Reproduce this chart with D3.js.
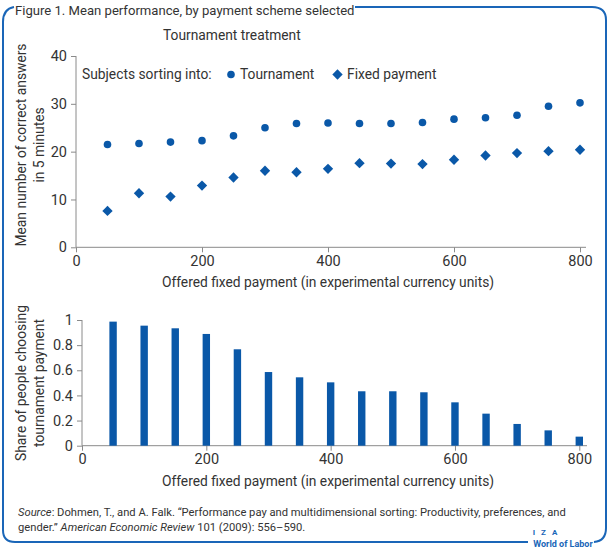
<!DOCTYPE html>
<html><head><meta charset="utf-8">
<script src="https://cdn.jsdelivr.net/npm/d3@7"></script>
<style>
body{margin:0;background:#fff;}
text{font-family:Roboto,"Liberation Sans",sans-serif;fill:#333;}
</style></head>
<body><svg id="c" width="608" height="553"></svg>
<script>
const payments = [50,100,150,200,250,300,350,400,450,500,550,600,650,700,750,800];
const tournamentPerf = [21.5,21.7,22.0,22.3,23.3,25.0,25.9,26.0,25.9,25.9,26.1,26.8,27.1,27.6,29.5,30.2];
const fixedPerf = [7.6,11.3,10.6,12.9,14.6,16.0,15.7,16.4,17.6,17.5,17.4,18.3,19.2,19.7,20.1,20.4];
const shareTournament = [0.987,0.955,0.934,0.889,0.767,0.586,0.544,0.504,0.433,0.433,0.425,0.345,0.255,0.173,0.122,0.072];
const xTicks = [0,200,400,600,800];
const yTicksTop = [0,10,20,30,40];
const yTicksBottom = [0,0.2,0.4,0.6,0.8,1];

const blue = "#0a58a8", frame = "#1a66b8", axisCol = "#8a8a8a";
const fs = 13.8, tfs = 14.5;
const svg = d3.select("#c");

// frame
const fp = d3.path();
fp.moveTo(14,7); fp.quadraticCurveTo(3,9,3,22);
fp.lineTo(3,530); fp.quadraticCurveTo(3,542,15,542);
fp.lineTo(528,542);
svg.append("path").attr("d",fp.toString()).attr("fill","none").attr("stroke",frame).attr("stroke-width",2);
const fp2 = d3.path();
fp2.moveTo(594,542); fp2.quadraticCurveTo(606,541,606,528);
fp2.lineTo(606,20); fp2.quadraticCurveTo(606,7,592,7); fp2.lineTo(355,7);
svg.append("path").attr("d",fp2.toString()).attr("fill","none").attr("stroke",frame).attr("stroke-width",2);

svg.append("text").attr("x",15).attr("y",15).attr("font-size",13.1).text("Figure 1. Mean performance, by payment scheme selected");

// ---- top chart
const xT = d3.scaleLinear().domain([0,800]).range([76,580]);
const yT = d3.scaleLinear().domain([0,40]).range([247.3,56]);
const gT = svg.append("g");
const axL = gT.append("g").attr("transform","translate(76,0)").call(d3.axisLeft(yT).tickValues(yTicksTop).tickSize(5).tickPadding(4));
const axB = gT.append("g").attr("transform","translate(0,247.3)").call(d3.axisBottom(xT).tickValues(xTicks).tickSize(5).tickPadding(3));
[axL,axB].forEach(a=>{a.selectAll("path,line").attr("stroke",axisCol);a.select(".domain").attr("d",null);a.selectAll("text").attr("font-size",tfs).attr("fill","#333").attr("font-family",null);});
gT.append("line").attr("x1",76).attr("x2",76).attr("y1",56).attr("y2",247.3).attr("stroke",axisCol);
gT.append("line").attr("x1",76).attr("x2",586).attr("y1",247.3).attr("y2",247.3).attr("stroke",axisCol);

gT.selectAll("circle.t").data(payments).join("circle").attr("class","t")
  .attr("cx",d=>xT(d)).attr("cy",(d,i)=>yT(tournamentPerf[i])).attr("r",3.8).attr("fill",blue);
const diamond = d3.symbol().type(d3.symbolDiamond2).size(68);
gT.selectAll("path.f").data(payments).join("path").attr("class","f")
  .attr("d",diamond).attr("transform",(d,i)=>`translate(${xT(d)},${yT(fixedPerf[i])})`).attr("fill",blue);

svg.append("text").attr("x",163).attr("y",40).attr("font-size",fs).text("Tournament treatment");
// legend
svg.append("text").attr("x",82).attr("y",79).attr("font-size",fs).text("Subjects sorting into:");
svg.append("circle").attr("cx",231).attr("cy",74.5).attr("r",3.8).attr("fill",blue);
svg.append("text").attr("x",240).attr("y",79).attr("font-size",fs).text("Tournament");
svg.append("path").attr("d",diamond).attr("transform","translate(337.5,74.5)").attr("fill",blue);
svg.append("text").attr("x",347).attr("y",79).attr("font-size",fs).text("Fixed payment");

svg.append("text").attr("transform","translate(26,145) rotate(-90)").attr("text-anchor","middle").attr("font-size",fs).text("Mean number of correct answers");
svg.append("text").attr("transform","translate(44,145) rotate(-90)").attr("text-anchor","middle").attr("font-size",fs).text("in 5 minutes");
svg.append("text").attr("x",328).attr("y",287).attr("text-anchor","middle").attr("font-size",fs).text("Offered fixed payment (in experimental currency units)");

// ---- bottom chart
const xB = d3.scaleLinear().domain([0,800]).range([82,579.3]);
const yB = d3.scaleLinear().domain([0,1]).range([445.7,320]);
const gB = svg.append("g");
const bL = gB.append("g").attr("transform","translate(82,0)").call(d3.axisLeft(yB).tickValues(yTicksBottom).tickFormat(d=>d===0||d===1?d3.format("d")(d):d3.format(".1f")(d)).tickSize(5).tickPadding(4));
const bB = gB.append("g").attr("transform","translate(0,445.7)").call(d3.axisBottom(xB).tickValues(xTicks).tickSize(5).tickPadding(3));
[bL,bB].forEach(a=>{a.selectAll("path,line").attr("stroke",axisCol);a.select(".domain").attr("d",null);a.selectAll("text").attr("font-size",tfs).attr("fill","#333").attr("font-family",null);});
gB.append("line").attr("x1",82).attr("x2",82).attr("y1",320).attr("y2",445.7).attr("stroke",axisCol);
gB.append("line").attr("x1",82).attr("x2",587).attr("y1",445.7).attr("y2",445.7).attr("stroke",axisCol);
const bw = 7.4;
gB.selectAll("rect").data(payments).join("rect")
  .attr("x",d=>xB(d)-bw/2).attr("width",bw)
  .attr("y",(d,i)=>yB(shareTournament[i])).attr("height",(d,i)=>yB(0)-yB(shareTournament[i]))
  .attr("fill",blue);

svg.append("text").attr("transform","translate(26,383) rotate(-90)").attr("text-anchor","middle").attr("font-size",fs).text("Share of people choosing");
svg.append("text").attr("transform","translate(44,383) rotate(-90)").attr("text-anchor","middle").attr("font-size",fs).text("tournament payment");
svg.append("text").attr("x",328).attr("y",486).attr("text-anchor","middle").attr("font-size",fs).text("Offered fixed payment (in experimental currency units)");

// source
const s1 = svg.append("text").attr("x",18).attr("y",516).attr("font-size",11.2);
s1.append("tspan").attr("font-style","italic").text("Source");
s1.append("tspan").text(": Dohmen, T., and A. Falk. \u201CPerformance pay and multidimensional sorting: Productivity, preferences, and");
const s2 = svg.append("text").attr("x",18).attr("y",531).attr("font-size",11.2);
s2.append("tspan").text("gender.\u201D ");
s2.append("tspan").attr("font-style","italic").text("American Economic Review");
s2.append("tspan").text(" 101 (2009): 556\u2013590.");

// logo
svg.append("text").attr("x",546).attr("y",535).attr("text-anchor","middle").attr("font-size",8).attr("font-weight","bold").style("fill",frame).attr("letter-spacing",2).text("I Z A");
svg.append("text").attr("x",563).attr("y",547).attr("text-anchor","middle").attr("font-size",9).attr("font-weight","bold").style("fill",frame).text("World of Labor");
</script></body></html>
